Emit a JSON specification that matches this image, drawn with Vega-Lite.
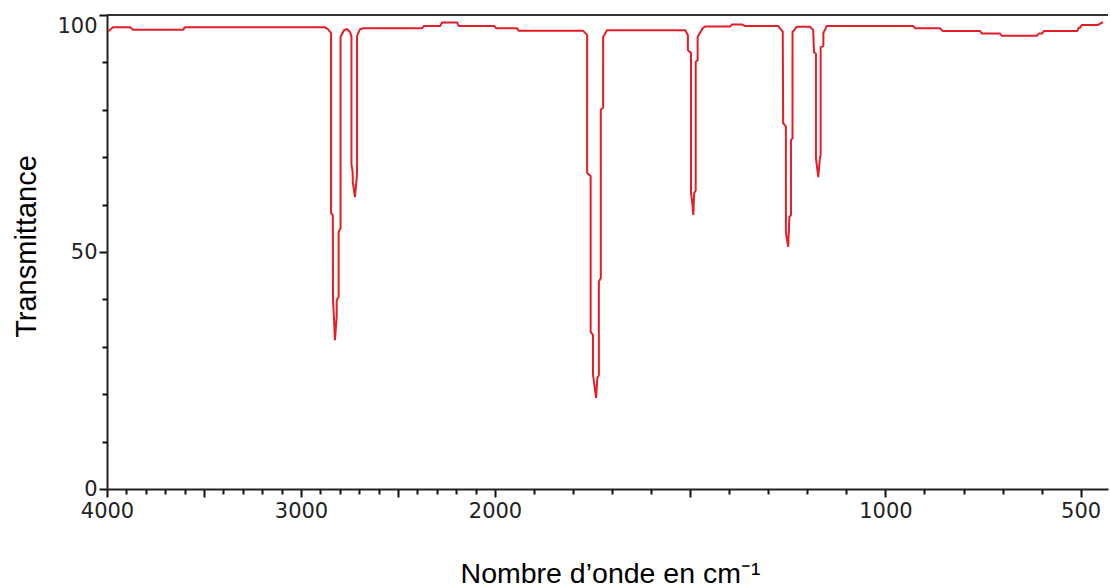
{
  "$schema": "https://vega.github.io/schema/vega-lite/v6.json",
  "description": "IR spectrum: transmittance against wavenumber",
  "autosize": "none",
  "width": 1001,
  "height": 474,
  "padding": {"left": 107, "top": 15, "right": 2, "bottom": 99},
  "background": "white",
  "layer": [
    {
      "data": {
        "values": [
          {"wn": 3995, "T": 96.5}, {"wn": 3969, "T": 97.4}, {"wn": 3881, "T": 97.4}, {"wn": 3866, "T": 96.9},
          {"wn": 3608, "T": 96.9}, {"wn": 3598, "T": 97.4}, {"wn": 2876, "T": 97.4}, {"wn": 2861, "T": 97.0},
          {"wn": 2845, "T": 96.2}, {"wn": 2845, "T": 58.2}, {"wn": 2836, "T": 57.8}, {"wn": 2835, "T": 39.9},
          {"wn": 2830, "T": 36.1}, {"wn": 2825, "T": 31.4}, {"wn": 2816, "T": 36.5}, {"wn": 2816, "T": 39.9},
          {"wn": 2806, "T": 40.5}, {"wn": 2806, "T": 54.2}, {"wn": 2796, "T": 55.0}, {"wn": 2796, "T": 95.4},
          {"wn": 2778, "T": 96.8}, {"wn": 2763, "T": 97.0}, {"wn": 2747, "T": 96.4}, {"wn": 2740, "T": 95.5},
          {"wn": 2740, "T": 68.4}, {"wn": 2734, "T": 67.0}, {"wn": 2733, "T": 64.8}, {"wn": 2722, "T": 61.6},
          {"wn": 2712, "T": 66.0}, {"wn": 2711, "T": 68.4}, {"wn": 2711, "T": 95.6}, {"wn": 2696, "T": 97.0},
          {"wn": 2680, "T": 97.2}, {"wn": 2376, "T": 97.2}, {"wn": 2366, "T": 97.7}, {"wn": 2283, "T": 97.7},
          {"wn": 2273, "T": 98.4}, {"wn": 2196, "T": 98.4}, {"wn": 2186, "T": 97.7}, {"wn": 2005, "T": 97.7},
          {"wn": 1997, "T": 97.2}, {"wn": 1944, "T": 97.2}, {"wn": 1939, "T": 96.7}, {"wn": 1775, "T": 96.7},
          {"wn": 1764, "T": 95.8}, {"wn": 1764, "T": 66.7}, {"wn": 1755, "T": 66.0}, {"wn": 1755, "T": 33.1},
          {"wn": 1749, "T": 32.5}, {"wn": 1749, "T": 24.1}, {"wn": 1741, "T": 19.2}, {"wn": 1738, "T": 23.4},
          {"wn": 1734, "T": 24.0}, {"wn": 1734, "T": 43.7}, {"wn": 1729, "T": 44.5}, {"wn": 1729, "T": 80.0},
          {"wn": 1723, "T": 80.5}, {"wn": 1723, "T": 95.4}, {"wn": 1713, "T": 96.8}, {"wn": 1513, "T": 96.8},
          {"wn": 1506, "T": 95.8}, {"wn": 1506, "T": 92.6}, {"wn": 1498, "T": 92.0}, {"wn": 1498, "T": 62.4},
          {"wn": 1495, "T": 60.5}, {"wn": 1492, "T": 57.8}, {"wn": 1490, "T": 62.4}, {"wn": 1486, "T": 63.0},
          {"wn": 1486, "T": 90.1}, {"wn": 1481, "T": 90.5}, {"wn": 1481, "T": 95.4}, {"wn": 1468, "T": 97.2},
          {"wn": 1462, "T": 97.6}, {"wn": 1398, "T": 97.6}, {"wn": 1393, "T": 98.0}, {"wn": 1367, "T": 98.0},
          {"wn": 1360, "T": 97.7}, {"wn": 1275, "T": 97.7}, {"wn": 1263, "T": 96.5}, {"wn": 1262, "T": 77.2},
          {"wn": 1255, "T": 76.5}, {"wn": 1255, "T": 54.0}, {"wn": 1249, "T": 51.1}, {"wn": 1246, "T": 57.4},
          {"wn": 1242, "T": 57.8}, {"wn": 1242, "T": 73.6}, {"wn": 1238, "T": 74.0}, {"wn": 1238, "T": 96.4},
          {"wn": 1227, "T": 97.5}, {"wn": 1193, "T": 97.5}, {"wn": 1185, "T": 96.8}, {"wn": 1183, "T": 92.2},
          {"wn": 1178, "T": 91.8}, {"wn": 1178, "T": 69.8}, {"wn": 1172, "T": 65.8}, {"wn": 1168, "T": 69.8},
          {"wn": 1166, "T": 70.5}, {"wn": 1166, "T": 93.2}, {"wn": 1159, "T": 93.5}, {"wn": 1159, "T": 96.2},
          {"wn": 1150, "T": 97.7}, {"wn": 929, "T": 97.7}, {"wn": 924, "T": 97.2}, {"wn": 860, "T": 97.2},
          {"wn": 853, "T": 96.6}, {"wn": 758, "T": 96.6}, {"wn": 753, "T": 96.1}, {"wn": 707, "T": 96.1},
          {"wn": 702, "T": 95.6}, {"wn": 612, "T": 95.6}, {"wn": 607, "T": 96.1}, {"wn": 599, "T": 96.1},
          {"wn": 594, "T": 96.6}, {"wn": 509, "T": 96.6}, {"wn": 505, "T": 97.3}, {"wn": 502, "T": 97.3},
          {"wn": 497, "T": 97.9}, {"wn": 456, "T": 97.9}, {"wn": 443, "T": 98.5}
        ]
      },
      "mark": {"type": "line", "stroke": "#e41e26", "strokeWidth": 2},
      "encoding": {
        "x": {
          "field": "wn",
          "type": "quantitative",
          "scale": {"domain": [4000, 2000, 430], "range": [0, 388, 1001], "nice": false, "zero": false},
          "axis": {
            "orient": "bottom",
            "values": [4000, 3500, 3000, 2500, 2000, 1500, 1000, 500],
            "format": "d",
            "labelExpr": "datum.value % 1000 === 0 || datum.value === 500 ? datum.label : ''",
            "tickSize": 8,
            "labelPadding": 3,
            "labelFlush": false,
            "labelOverlap": false,
            "grid": false,
            "domainColor": "#222",
            "domainWidth": 2,
            "tickColor": "#111",
            "tickWidth": 2,
            "labelFont": "DejaVu Sans",
            "labelFontSize": 21,
            "labelColor": "#222",
            "title": "Nombre d’onde en cm⁻¹",
            "titleFont": "Liberation Sans",
            "titleFontSize": 28.5,
            "titleFontWeight": "normal",
            "titleColor": "#000",
            "titleX": 503,
            "titleY": 93,
            "titleAlign": "center",
            "titleBaseline": "alphabetic"
          }
        },
        "y": {
          "field": "T",
          "type": "quantitative",
          "scale": {"domain": [0, 100], "nice": false},
          "axis": {
            "orient": "left",
            "values": [0, 50, 100],
            "tickSize": 8,
            "labelBaseline": {"condition": {"test": "datum.value === 100", "value": "top"}, "value": "middle"},
            "labelPadding": 2,
            "labelFlush": false,
            "labelOverlap": false,
            "grid": false,
            "domainColor": "#222",
            "domainWidth": 2,
            "tickColor": "#111",
            "tickWidth": 2,
            "labelFont": "DejaVu Sans",
            "labelFontSize": 21,
            "labelColor": "#222",
            "title": "Transmittance",
            "titleFont": "Liberation Sans",
            "titleFontSize": 29,
            "titleFontWeight": "normal",
            "titleColor": "#000",
            "titleAngle": -90,
            "titleX": -72,
            "titleY": 231,
            "titleAlign": "center",
            "titleBaseline": "alphabetic"
          }
        },
        "order": {"value": null}
      }
    },
    {
      "data": {"values": [{}]},
      "mark": {"type": "rule", "color": "#333", "strokeWidth": 2},
      "encoding": {
        "x": {
          "datum": 4000,
          "type": "quantitative",
          "axis": {
            "orient": "bottom",
            "values": [3900, 3800, 3700, 3600, 3400, 3300, 3200, 3100, 2900, 2800, 2700, 2600, 2400, 2300, 2200, 2100, 1900, 1800, 1700, 1600, 1400, 1300, 1200, 1100, 900, 800, 700, 600],
            "tickSize": 5,
            "tickColor": "#111",
            "tickWidth": 2,
            "labels": false,
            "domain": false,
            "grid": false,
            "title": null
          }
        },
        "x2": {"datum": 430},
        "y": {
          "datum": 100,
          "type": "quantitative",
          "axis": {
            "orient": "left",
            "values": [10, 20, 30, 40, 60, 70, 80, 90],
            "tickSize": 5,
            "tickColor": "#111",
            "tickWidth": 2,
            "labels": false,
            "domain": false,
            "grid": false,
            "title": null
          }
        }
      }
    }
  ],
  "resolve": {"axis": {"x": "independent", "y": "independent"}},
  "config": {
    "view": {"stroke": null}
  }
}
